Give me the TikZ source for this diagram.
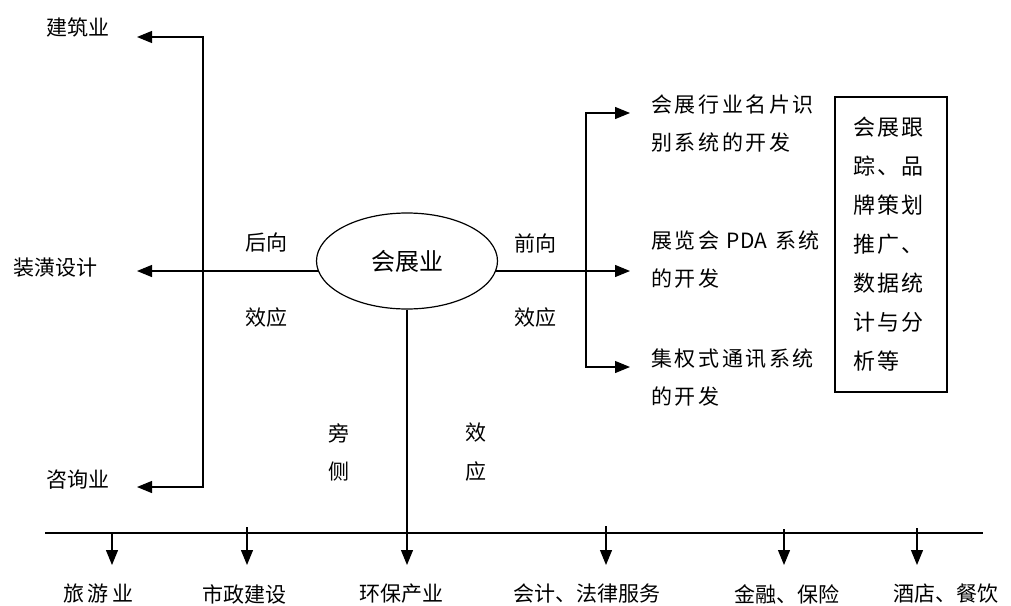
\documentclass[tikz,border=0pt]{standalone}
\usepackage{fontspec}
\setmainfont{Noto Sans CJK SC}
\usetikzlibrary{arrows.meta,shapes.geometric}
\def\lsA#1{\ifx\relax#1\else#1\kern2.6pt\expandafter\lsA\fi}
\def\lsB#1{\ifx\relax#1\else#1\kern2pt\expandafter\lsB\fi}
\def\lsC#1{\ifx\relax#1\else#1\kern3.5pt\expandafter\lsC\fi}
\begin{document}
\begin{tikzpicture}[x=1pt,y=-1pt,
  lbl/.style={inner sep=0pt,font=\fontsize{21}{25}\selectfont},
  lblsp/.style={inner sep=0pt,font=\fontsize{21}{38}\selectfont,align=left},
  arr/.style={line width=1.2pt,-{Triangle[length=15pt,width=12pt]}},
  ln/.style={line width=1.2pt}]
\useasboundingbox (0,0) rectangle (1011,605);

% central node
\node[ellipse,draw,line width=1.2pt,minimum width=181pt,minimum height=96pt,inner sep=0pt,
      font=\fontsize{24}{28}\selectfont] (hub) at (407,261) {会展业};

% left labels
\node[lbl] (jz) at (78,27) {建筑业};
\node[lbl] (zh) at (55,268) {装潢设计};
\node[lbl] (zx) at (78,480) {咨询业};
\node[lbl] (hx) at (266,243) {后向};
\node[lbl] (hy) at (266,318) {效应};

% left connectors
\coordinate (lt) at (203,37);
\coordinate (lb) at (203,487);
\coordinate (lm) at (319,271);
\coordinate (tipT) at (137,37);
\coordinate (tipM) at (137,271);
\coordinate (tipB) at (137,487);
\draw[arr] (lb) -- (lt) -- (tipT);
\draw[arr] (lt) -- (lb) -- (tipB);
\draw[arr] (lm) -- (tipM);

% right labels
\node[lblsp,anchor=west] (r1) at (651,124) {\lsA 会展行业名片识\relax\\\lsA 别系统的开发\relax};
\node[lblsp,anchor=west] (r2) at (651,260) {\lsA 展览会\relax\hspace{5pt}PDA\hspace{8pt}\lsA 系统\relax\\\lsA 的开发\relax};
\node[lblsp,anchor=west] (r3) at (651,378) {\lsA 集权式通讯系统\relax\\\lsA 的开发\relax};
\node[lbl] (qx) at (535,243) {前向};
\node[lbl] (qy) at (535,318) {效应};

% right connectors
\coordinate (rm) at (495,271);
\coordinate (rt) at (586,113);
\coordinate (rb) at (586,367);
\coordinate (tipR1) at (630,113);
\coordinate (tipR2) at (630,271);
\coordinate (tipR3) at (630,367);
\draw[arr] (rm) -- (tipR2);
\draw[arr] (rb) -- (rt) -- (tipR1);
\draw[arr] (rt) -- (rb) -- (tipR3);

% box
\node[draw,line width=1.2pt,minimum width=112pt,minimum height=295pt,inner sep=0pt,
      text width=75pt,align=left,font=\fontsize{22}{39}\selectfont] (box) at (891,244.5)
  {\lsB 会展跟\relax\\\lsB 踪、品\relax\\\lsB 牌策划\relax\\\lsB 推广、\relax\\\lsB 数据统\relax\\\lsB 计与分\relax\\\lsB 析等\relax};

% side effect labels
\node[lbl] (p1) at (339,433) {旁};
\node[lbl] (p2) at (339,472) {侧};
\node[lbl] (p3) at (476,433) {效};
\node[lbl] (p4) at (476,472) {应};

% bottom line and arrows
\coordinate (hl) at (45,533);
\coordinate (hr) at (983,533);
\draw[ln] (hl) -- (hr);
\coordinate (bt3) at (407,565);
\draw[arr] (hub.south) -- (bt3);
\coordinate (b1s) at (112,533); \coordinate (b1t) at (112,565);
\coordinate (b2s) at (247,527); \coordinate (b2t) at (247,565);
\coordinate (b4s) at (606,526); \coordinate (b4t) at (606,565);
\coordinate (b5s) at (784,529); \coordinate (b5t) at (784,565);
\coordinate (b6s) at (917,528); \coordinate (b6t) at (917,565);
\draw[arr] (b1s) -- (b1t);
\draw[arr] (b2s) -- (b2t);
\draw[arr] (b4s) -- (b4t);
\draw[arr] (b5s) -- (b5t);
\draw[arr] (b6s) -- (b6t);

% bottom labels
\node[lbl,anchor=west] (u1) at (63,594) {\lsC 旅游业\relax};
\node[lbl] (u2) at (244,594) {市政建设};
\node[lbl] (u3) at (401,594) {环保产业};
\node[lbl] (u4) at (587,594) {会计、法律服务};
\node[lbl] (u5) at (787,594) {金融、保险};
\node[lbl] (u6) at (946,594) {酒店、餐饮};
\end{tikzpicture}
\end{document}
